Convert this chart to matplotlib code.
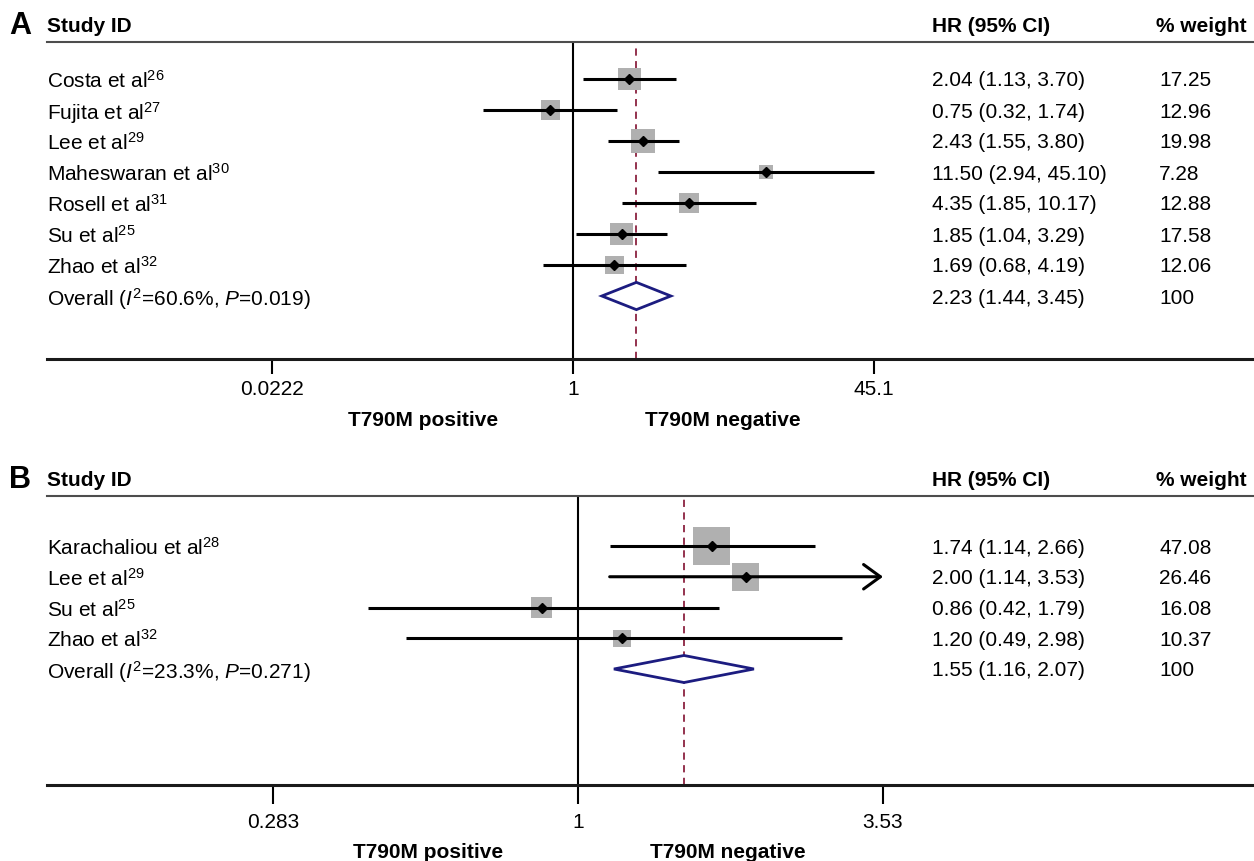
import numpy as np
import matplotlib
matplotlib.use("Agg")
import matplotlib.pyplot as plt
from matplotlib.patches import Polygon
from matplotlib.transforms import blended_transform_factory

plt.rcParams['font.family'] = ['Liberation Sans', 'DejaVu Sans']
plt.rcParams['mathtext.fontset'] = 'custom'
plt.rcParams['mathtext.rm'] = 'Liberation Sans'
plt.rcParams['mathtext.it'] = 'Liberation Sans:italic'
plt.rcParams['mathtext.bf'] = 'Liberation Sans:bold'
plt.rcParams['mathtext.sf'] = 'Liberation Sans'

# ---------------- data ----------------
studies_A = ["Costa et al", "Fujita et al", "Lee et al", "Maheswaran et al",
             "Rosell et al", "Su et al", "Zhao et al"]
refs_A = ["26", "27", "29", "30", "31", "25", "32"]
hr_A = [2.04, 0.75, 2.43, 11.50, 4.35, 1.85, 1.69]
lo_A = [1.13, 0.32, 1.55, 2.94, 1.85, 1.04, 0.68]
hi_A = [3.70, 1.74, 3.80, 45.10, 10.17, 3.29, 4.19]
wt_A = [17.25, 12.96, 19.98, 7.28, 12.88, 17.58, 12.06]
overall_A = [2.23, 1.44, 3.45]
het_A = ["60.6%", "0.019"]
ticks_A = [0.0222, 1, 45.1]
ticklabels_A = ["0.0222", "1", "45.1"]

studies_B = ["Karachaliou et al", "Lee et al", "Su et al", "Zhao et al"]
refs_B = ["28", "29", "25", "32"]
hr_B = [1.74, 2.00, 0.86, 1.20]
lo_B = [1.14, 1.14, 0.42, 0.49]
hi_B = [2.66, 3.53, 1.79, 2.98]
wt_B = [47.08, 26.46, 16.08, 10.37]
overall_B = [1.55, 1.16, 2.07]
het_B = ["23.3%", "0.271"]
ticks_B = [0.283, 1, 3.53]
ticklabels_B = ["0.283", "1", "3.53"]
arrow_B = [False, True, False, False]

W, H = 1254, 861
fig = plt.figure(figsize=(W / 100, H / 100), dpi=100)

def fx(px):
    return px / W

def fy(py):
    return 1 - py / H

PT = 72 / 100.0  # points per pixel

def panel(letter, studies, refs, hr, lo, hi, wt, overall, het, ticks, ticklabels,
          arrows, top, bottom, row0, rowstep, x1px, pxperln, ticklen, tickpad,
          label_y, letter_y):
    left, right = 47, 1254
    ax = fig.add_axes([fx(left), fy(bottom), fx(right - left), (bottom - top) / H])
    ax.set_xscale('log')
    lnleft = (left - x1px) / pxperln
    lnright = (right - x1px) / pxperln
    ax.set_xlim(np.exp(lnleft), np.exp(lnright))
    ymin = (top - row0) / rowstep
    ymax = (bottom - row0) / rowstep
    ax.set_ylim(ymax, ymin)
    ax.set_yticks([])
    ax.set_xticks(ticks)
    ax.set_xticklabels(ticklabels)
    ax.xaxis.set_minor_locator(matplotlib.ticker.NullLocator())
    ax.tick_params(axis='x', direction='out', length=ticklen * PT, width=1.5,
                   pad=tickpad * PT, labelsize=15, colors='black')
    for s in ['left', 'right']:
        ax.spines[s].set_visible(False)
    ax.spines['bottom'].set_linewidth(2.2)
    ax.spines['bottom'].set_color('#1a1a1a')
    ax.spines['top'].set_linewidth(1.5)
    ax.spines['top'].set_color('#4d4d4d')
    ax.patch.set_alpha(0)

    ax.axvline(1, color='black', lw=1.5, zorder=1)
    ax.axvline(overall[0], color='#8B2240', lw=1.3, ls=(0, (4, 3)), zorder=2)

    n = len(hr)
    rows = np.arange(n)
    sides = 5.4 * np.sqrt(np.array(wt)) * PT
    ax.scatter(hr, rows, s=sides ** 2, marker='s', color='#b0b0b0', zorder=3,
               linewidths=0)
    for i in range(n):
        if arrows[i]:
            ax.annotate('', xy=(hi[i], i), xytext=(lo[i], i),
                        arrowprops=dict(arrowstyle='->,head_length=0.55,head_width=0.4',
                                        color='black', lw=2.2, mutation_scale=22,
                                        shrinkA=0, shrinkB=0),
                        zorder=4)
        else:
            ax.plot([lo[i], hi[i]], [i, i], color='black', lw=2.2,
                    solid_capstyle='butt', zorder=4)
    ax.plot(hr, rows, linestyle='none', marker='D', markersize=7.2 * PT,
            color='black', zorder=5)
    # overall diamond
    h = 0.44
    ov = n
    poly = Polygon([(overall[1], ov), (overall[0], ov - h), (overall[2], ov),
                    (overall[0], ov + h)], closed=True, facecolor='white',
                   edgecolor='#1c1c80', lw=2.0, zorder=5)
    ax.add_patch(poly)

    tr = blended_transform_factory(fig.transFigure, ax.transData)
    fs = 15
    for i in range(n):
        ax.text(fx(47), i, studies[i] + r"$^{" + refs[i] + r"}$", transform=tr,
                fontsize=fs, va='center_baseline', ha='left')
        ax.text(fx(932), i, f"{hr[i]:.2f} ({lo[i]:.2f}, {hi[i]:.2f})", transform=tr,
                fontsize=fs, va='center_baseline', ha='left')
        ax.text(fx(1159), i, f"{wt[i]:.2f}", transform=tr,
                fontsize=fs, va='center_baseline', ha='left')
    ax.text(fx(47), ov, "Overall ($I^{2}$=" + het[0] +
            ", $P$=" + het[1] + ")", transform=tr, fontsize=fs,
            va='center_baseline', ha='left')
    ax.text(fx(932), ov, f"{overall[0]:.2f} ({overall[1]:.2f}, {overall[2]:.2f})",
            transform=tr, fontsize=fs, va='center_baseline', ha='left')
    ax.text(fx(1159), ov, "100", transform=tr, fontsize=fs,
            va='center_baseline', ha='left')

    # headers
    fig.text(fx(9), fy(letter_y), letter, fontsize=22, fontweight='bold',
             va='center_baseline', ha='left')
    fig.text(fx(47), fy(letter_y + 2), "Study ID", fontsize=fs, fontweight='bold',
             va='center_baseline', ha='left')
    fig.text(fx(932), fy(letter_y + 2), "HR (95% CI)", fontsize=fs,
             fontweight='bold', va='center_baseline', ha='left')
    fig.text(fx(1156), fy(letter_y + 2), "% weight", fontsize=fs,
             fontweight='bold', va='center_baseline', ha='left')
    fig.text(fx(x1px - 75), fy(label_y), "T790M positive", fontsize=fs,
             fontweight='bold', va='center_baseline', ha='right')
    fig.text(fx(x1px + 72), fy(label_y), "T790M negative", fontsize=fs,
             fontweight='bold', va='center_baseline', ha='left')
    return ax

panel("A", studies_A, refs_A, hr_A, lo_A, hi_A, wt_A, overall_A, het_A, ticks_A,
      ticklabels_A, [False] * len(hr_A), top=42, bottom=359, row0=79, rowstep=31.0,
      x1px=573, pxperln=79.03, ticklen=15, tickpad=6, label_y=418, letter_y=23)
panel("B", studies_B, refs_B, hr_B, lo_B, hi_B, wt_B, overall_B, het_B, ticks_B,
      ticklabels_B, arrow_B, top=496, bottom=785, row0=546, rowstep=30.75,
      x1px=578, pxperln=241.8, ticklen=19, tickpad=9, label_y=850, letter_y=476)

fig.savefig("out.png", dpi=100)
